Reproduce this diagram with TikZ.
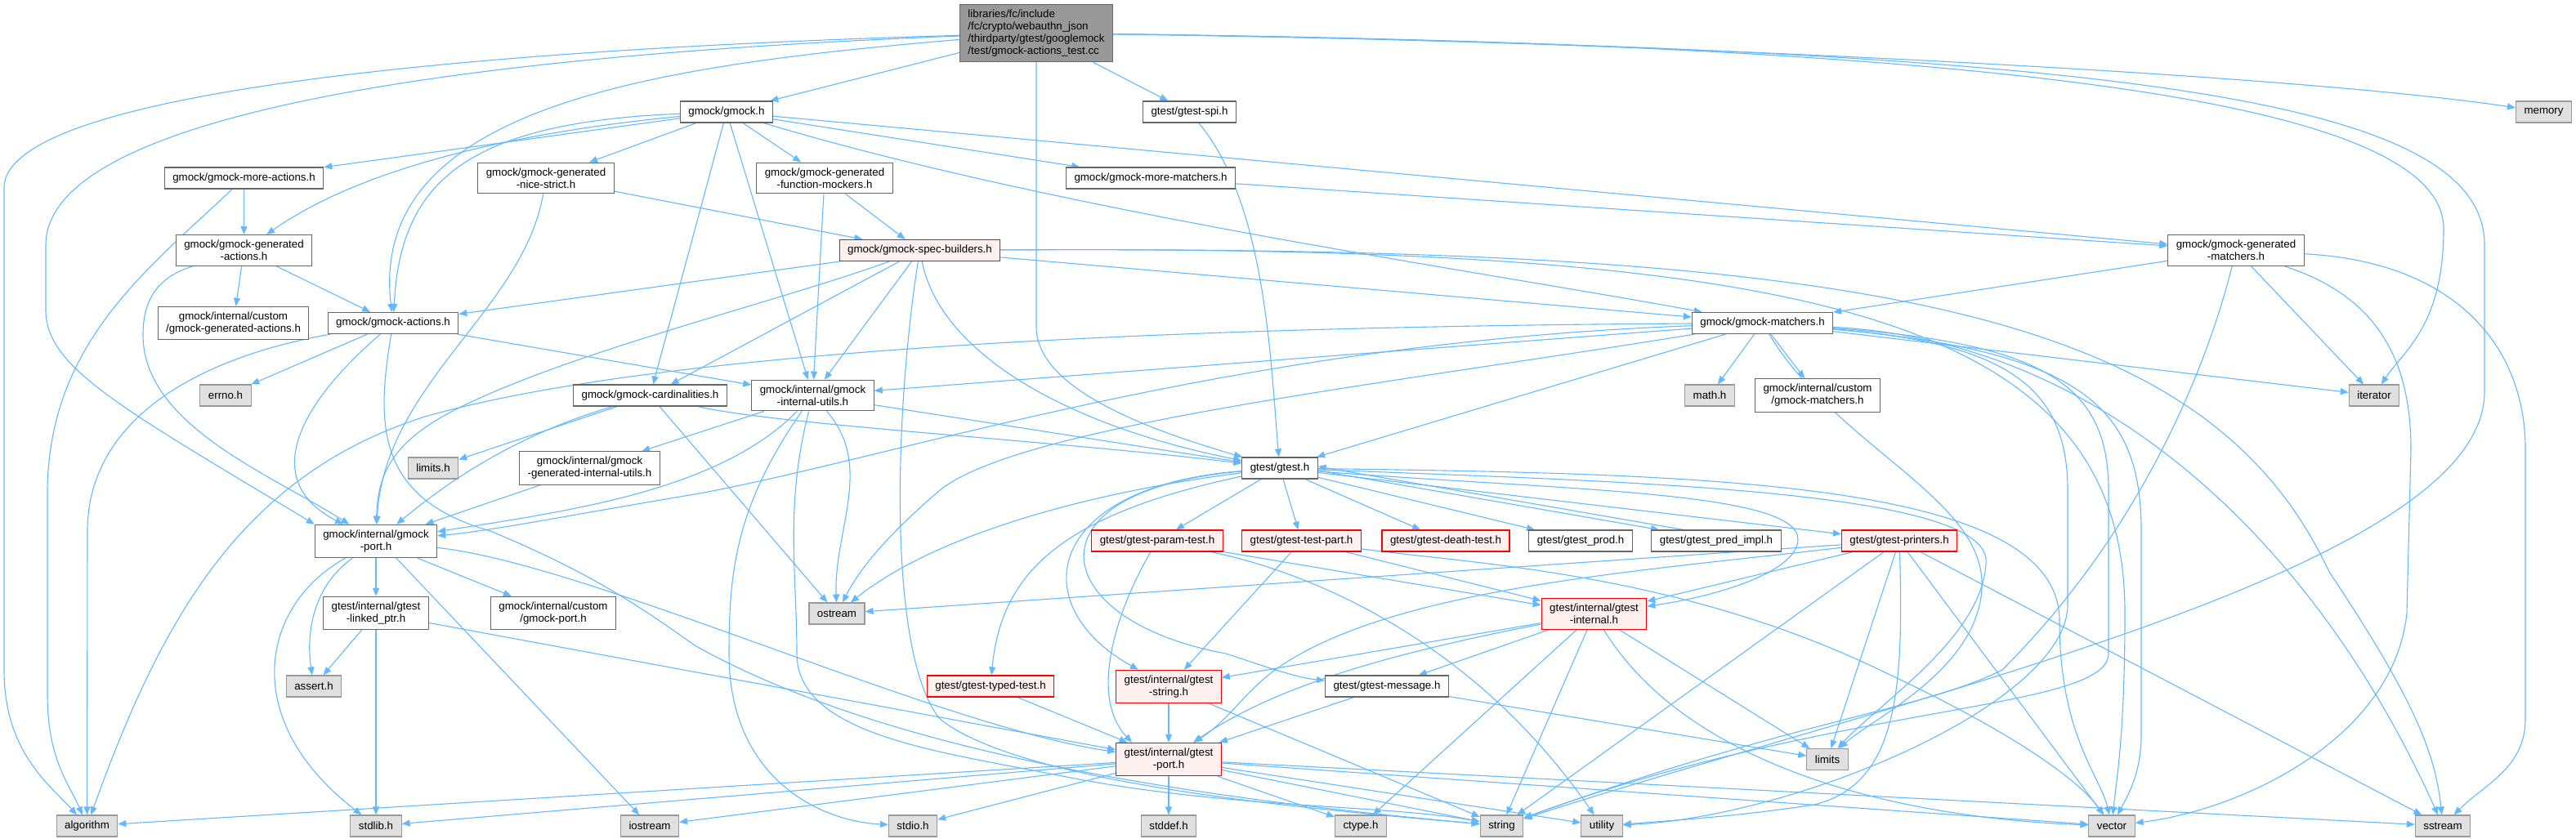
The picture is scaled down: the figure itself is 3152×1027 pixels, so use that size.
\documentclass[tikz,border=0pt]{standalone}
\usepackage{fontspec}
\setmainfont{Liberation Sans}
\usetikzlibrary{arrows.meta,backgrounds}

\definecolor{linha}{HTML}{63B8FF}
\definecolor{borda}{HTML}{666666}
\definecolor{bordasis}{HTML}{999999}
\definecolor{fundosis}{HTML}{E0E0E0}
\definecolor{fundover}{HTML}{FFF0F0}
\definecolor{fundoraiz}{HTML}{999999}

\begin{document}
\begin{tikzpicture}[x=1pt, y=-1pt, >={Triangle[length=10pt,width=8pt]},
    font=\fontsize{13.3}{15}\selectfont,
    arq/.style={draw=borda, fill=white, line width=1.1pt, align=center,
      inner xsep=10pt, inner ysep=6.5pt, minimum height=26pt},
    sis/.style={arq, draw=bordasis, fill=fundosis},
    trunc/.style={arq, draw=red, fill=fundover},
    dep/.style={->, draw=linha, line width=1.1pt}]
  \useasboundingbox (0,0) rectangle (3152,1027);

  % Arquivo principal
  \node[arq, fill=fundoraiz, align=left] (raiz) at (1268,40.5) {libraries/fc/include\\/fc/crypto/webauthn\_json\\/thirdparty/gtest/googlemock\\/test/gmock-actions\_test.cc};

  % Cabeçalhos do gmock
  \node[arq] (gmock) at (889,137) {gmock/gmock.h};
  \node[arq] (spi) at (1455.5,137) {gtest/gtest-spi.h};
  \node[arq] (maisacoes) at (298.5,218) {gmock/gmock-more-actions.h};
  \node[arq] (nicestrict) at (668,218) {gmock/gmock-generated\\-nice-strict.h};
  \node[arq] (fmockers) at (1009,218) {gmock/gmock-generated\\-function-mockers.h};
  \node[arq] (maismatch) at (1408,218) {gmock/gmock-more-matchers.h};
  \node[arq] (genacoes) at (298.5,306.5) {gmock/gmock-generated\\-actions.h};
  \node[trunc] (specb) at (1125.5,306.5) {gmock/gmock-spec-builders.h};
  \node[arq] (genmatch) at (2736,306.5) {gmock/gmock-generated\\-matchers.h};
  \node[arq] (customgenacoes) at (285.5,395.5) {gmock/internal/custom\\/gmock-generated-actions.h};
  \node[arq] (acoes) at (481,395.5) {gmock/gmock-actions.h};
  \node[arq] (matchers) at (2156.5,395.5) {gmock/gmock-matchers.h};
  \node[arq] (cardin) at (795.5,484) {gmock/gmock-cardinalities.h};
  \node[arq] (intutils) at (994.5,484) {gmock/internal/gmock\\-internal-utils.h};
  \node[arq] (custommatch) at (2224,484) {gmock/internal/custom\\/gmock-matchers.h};
  \node[arq] (genintutils) at (721.5,573) {gmock/internal/gmock\\-generated-internal-utils.h};
  \node[arq] (gmockport) at (460,662.5) {gmock/internal/gmock\\-port.h};
  \node[arq] (linkedptr) at (460,750.5) {gtest/internal/gtest\\-linked\_ptr.h};
  \node[arq] (customport) at (677,750.5) {gmock/internal/custom\\/gmock-port.h};

  % Cabeçalhos do gtest
  \node[arq] (gtest) at (1566,573) {gtest/gtest.h};
  \node[trunc] (paramtest) at (1416,662) {gtest/gtest-param-test.h};
  \node[trunc] (testpart) at (1592.5,662) {gtest/gtest-test-part.h};
  \node[trunc] (deathtest) at (1769,662) {gtest/gtest-death-test.h};
  \node[arq] (prod) at (1934,662) {gtest/gtest\_prod.h};
  \node[arq] (predimpl) at (2100,662) {gtest/gtest\_pred\_impl.h};
  \node[trunc] (printers) at (2324,662) {gtest/gtest-printers.h};
  \node[trunc] (gtestinternal) at (1950.5,751.5) {gtest/internal/gtest\\-internal.h};
  \node[trunc] (typedtest) at (1212,840) {gtest/gtest-typed-test.h};
  \node[trunc] (gteststring) at (1430,840.5) {gtest/internal/gtest\\-string.h};
  \node[arq] (message) at (1697,840) {gtest/gtest-message.h};
  \node[trunc] (gtestport) at (1430,929.5) {gtest/internal/gtest\\-port.h};

  % Cabeçalhos do sistema
  \node[sis] (memory) at (3112.5,137) {memory};
  \node[sis] (errno) at (276,484) {errno.h};
  \node[sis] (math) at (2092,484) {math.h};
  \node[sis] (iterator) at (2905,484) {iterator};
  \node[sis] (limitsh) at (530,573) {limits.h};
  \node[sis] (ostream) at (1024,751) {ostream};
  \node[sis] (assert) at (384,840) {assert.h};
  \node[sis] (limits) at (2236,929.5) {limits};
  \node[sis] (algorithm) at (106.5,1011) {algorithm};
  \node[sis] (stdlib) at (460,1011) {stdlib.h};
  \node[sis] (iostream) at (795,1011) {iostream};
  \node[sis] (stdio) at (1117,1011) {stdio.h};
  \node[sis] (stddef) at (1430,1011) {stddef.h};
  \node[sis] (ctype) at (1665,1011) {ctype.h};
  \node[sis] (string) at (1837.5,1011) {string};
  \node[sis] (utility) at (1960,1011) {utility};
  \node[sis] (vector) at (2584,1011) {vector};
  \node[sis] (sstream) at (2989,1011) {sstream};

  \begin{scope}[on background layer]
    % Inclusões do arquivo principal
    \draw[dep] (raiz) -- (gmock);
    \draw[dep] (raiz) -- (spi);
    \draw[dep] (raiz) -- (1268,400) .. controls (1268,480) and (1420,530) .. (gtest);
    \draw[dep] (raiz) .. controls (800,80) and (450,130) .. (acoes);
    \draw[dep] (raiz) .. controls (600,60) and (5,110) .. (5,230) -- (5,820) .. controls (5,920) and (60,960) .. (algorithm);
    \draw[dep] (raiz) .. controls (500,70) and (56,150) .. (56,300) -- (56,380) .. controls (56,450) and (150,500) .. (gmockport.north west);
    \draw[dep] (raiz) .. controls (2000,50) and (2800,90) .. (memory);
    \draw[dep] (raiz) .. controls (2500,55) and (2990,130) .. (2990,280) .. controls (2990,400) and (2940,430) .. (iterator);
    \draw[dep] (raiz) .. controls (2600,60) and (3040,120) .. (3040,300) -- (3040,480) .. controls (3040,700) and (2300,860) .. (string);

    % gmock.h
    \draw[dep] (gmock) -- (maisacoes);
    \draw[dep] (gmock) .. controls (650,160) and (450,200) .. (genacoes);
    \draw[dep] (gmock) .. controls (560,150) and (490,230) .. (acoes);
    \draw[dep] (gmock) -- (nicestrict);
    \draw[dep] (gmock) -- (fmockers);
    \draw[dep] (gmock) -- (cardin);
    \draw[dep] (gmock) -- (intutils);
    \draw[dep] (gmock) -- (maismatch);
    \draw[dep] (gmock) .. controls (1300,260) and (1800,330) .. (matchers);
    \draw[dep] (gmock) -- (genmatch);
    \draw[dep] (spi) .. controls (1550,250) and (1555,450) .. (gtest);

    % Ações e mocks
    \draw[dep] (maisacoes) -- (genacoes);
    \draw[dep] (maisacoes) .. controls (180,330) and (60,420) .. (58,600) -- (58,850) .. controls (58,930) and (85,960) .. (algorithm);
    \draw[dep] (nicestrict) -- (specb);
    \draw[dep] (nicestrict) .. controls (640,380) and (470,470) .. (gmockport);
    \draw[dep] (fmockers) -- (specb);
    \draw[dep] (fmockers) -- (intutils);
    \draw[dep] (maismatch) -- (genmatch);
    \draw[dep] (genacoes) -- (customgenacoes);
    \draw[dep] (genacoes) -- (acoes);
    \draw[dep] (genacoes) .. controls (190,340) and (175,370) .. (175,410) .. controls (175,520) and (330,580) .. (gmockport);
    \draw[dep] (acoes) -- (errno);
    \draw[dep] (acoes) .. controls (230,440) and (107,520) .. (107,650) -- (algorithm);
    \draw[dep] (acoes) .. controls (360,500) and (320,590) .. (gmockport);
    \draw[dep] (acoes) -- (intutils);
    \draw[dep] (acoes) .. controls (460,520) and (460,610) .. (600,650) .. controls (720,700) and (780,740) .. (850,790) .. controls (1100,930) and (1500,980) .. (string);

    % gmock-spec-builders.h
    \draw[dep] (specb) -- (acoes);
    \draw[dep] (specb) -- (cardin);
    \draw[dep] (specb) -- (intutils);
    \draw[dep] (specb) .. controls (950,370) and (700,430) .. (560,500) .. controls (480,540) and (462,580) .. (gmockport);
    \draw[dep] (specb) -- (matchers);
    \draw[dep] (specb) .. controls (1150,430) and (1300,520) .. (gtest);
    \draw[dep] (specb) .. controls (2300,300) and (2700,380) .. (2850,700) .. controls (2950,850) and (2980,920) .. (sstream);
    \draw[dep] (specb) .. controls (2200,300) and (2600,380) .. (2600,750) .. controls (2600,900) and (2590,950) .. (vector);
    \draw[dep] (specb) .. controls (1095,500) and (1085,800) .. (1150,880) .. controls (1250,960) and (1600,990) .. (string);

    % Cardinalidades e utilitários internos
    \draw[dep] (cardin) -- (limitsh);
    \draw[dep] (cardin) -- (ostream);
    \draw[dep] (cardin) .. controls (640,530) and (560,580) .. (gmockport);
    \draw[dep] (cardin) .. controls (950,520) and (1300,540) .. (gtest);
    \draw[dep] (intutils) -- (genintutils);
    \draw[dep] (intutils) .. controls (880,600) and (700,625) .. (gmockport);
    \draw[dep] (intutils) -- (gtest);
    \draw[dep] (intutils) .. controls (1070,570) and (1020,650) .. (ostream);
    \draw[dep] (intutils) .. controls (900,620) and (892,700) .. (892,800) .. controls (892,950) and (1000,1005) .. (stdio);
    \draw[dep] (intutils) .. controls (960,620) and (975,700) .. (975,800) .. controls (975,900) and (1150,920) .. (1300,950) .. controls (1500,990) and (1700,985) .. (string);
    \draw[dep] (genintutils) -- (gmockport);

    % gmock-matchers.h
    \draw[dep] (matchers) -- (math);
    \draw[dep] (matchers) -- (custommatch);
    \draw[dep] (matchers) -- (iterator);
    \draw[dep] (matchers) -- (intutils);
    \draw[dep] (matchers) -- (gtest);
    \draw[dep] (matchers) .. controls (1400,400) and (800,430) .. (520,510) .. controls (300,580) and (200,750) .. (algorithm);
    \draw[dep] (matchers) .. controls (1500,420) and (1100,560) .. (850,605) .. controls (700,630) and (600,650) .. (gmockport);
    \draw[dep] (matchers) .. controls (1700,470) and (1250,520) .. (1150,600) .. controls (1080,660) and (1050,700) .. (ostream);
    \draw[dep] (matchers) .. controls (2250,550) and (2430,610) .. (2425,720) .. controls (2420,820) and (2290,880) .. (limits);
    \draw[dep] (matchers) .. controls (2500,420) and (2580,470) .. (2580,600) -- (2580,800) .. controls (2580,870) and (2250,860) .. (string);
    \draw[dep] (matchers) .. controls (2450,420) and (2530,470) .. (2530,600) -- (2530,740) .. controls (2530,860) and (2200,1000) .. (utility);
    \draw[dep] (matchers) .. controls (2550,430) and (2620,500) .. (2620,650) -- (2620,900) .. controls (2620,950) and (2600,980) .. (vector);
    \draw[dep] (matchers) .. controls (2600,420) and (2850,700) .. (sstream);

    % gmock-generated-matchers.h
    \draw[dep] (genmatch) -- (matchers);
    \draw[dep] (genmatch) -- (iterator);
    \draw[dep] (genmatch) .. controls (2700,450) and (2620,650) .. (2450,820) .. controls (2350,870) and (2200,880) .. (string);
    \draw[dep] (genmatch) .. controls (2900,360) and (2950,430) .. (2950,550) -- (2945,750) .. controls (2930,900) and (2750,990) .. (vector);
    \draw[dep] (genmatch) .. controls (3000,320) and (3090,420) .. (3090,550) -- (3090,880) .. controls (3090,940) and (3040,960) .. (sstream);

    % gmock-port.h
    \draw[dep] (gmockport) .. controls (380,720) and (375,780) .. (assert);
    \draw[dep] (gmockport) .. controls (320,740) and (290,880) .. (stdlib);
    \draw[dep] (gmockport) -- (linkedptr);
    \draw[dep] ([xshift=25]gmockport.south) -- (iostream);
    \draw[dep] (gmockport) -- (customport);
    \draw[dep] (gmockport) .. controls (720,690) and (1150,890) .. (gtestport);
    \draw[dep] (linkedptr) -- (stdlib);
    \draw[dep] (linkedptr) -- (assert);
    \draw[dep] (linkedptr) -- (gtestport);

    % gtest.h
    \draw[dep] (gtest) -- (paramtest);
    \draw[dep] (gtest) -- (testpart);
    \draw[dep] (gtest) -- (deathtest);
    \draw[dep] (gtest) -- (prod);
    \draw[dep] ([yshift=-3]gtest.east) -- ([xshift=-70]predimpl.north);
    \draw[dep] ([xshift=-40]predimpl.north) -- ([yshift=2]gtest.east);
    \draw[dep] (gtest) -- (printers);
    \draw[dep] (gtest) .. controls (1900,600) and (2200,600) .. (2200,660) .. controls (2200,700) and (2100,730) .. (gtestinternal);
    \draw[dep] (gtest) .. controls (1350,600) and (1150,650) .. (ostream);
    \draw[dep] (gtest) .. controls (2000,590) and (2440,600) .. (2430,690) .. controls (2425,780) and (2300,860) .. (limits);
    \draw[dep] (gtest) .. controls (2100,580) and (2520,590) .. (2520,760) .. controls (2520,900) and (2570,950) .. (vector);
    \draw[dep] (gtest) .. controls (1280,595) and (1250,740) .. (gteststring);
    \draw[dep] (gtest) .. controls (1250,600) and (1280,760) .. (1500,800) .. controls (1560,820) and (1590,830) .. (message);
    \draw[dep] (gtest) .. controls (1300,630) and (1225,700) .. (typedtest);

    % Testes parametrizados, partes e impressoras
    \draw[dep] (paramtest) -- (gtestinternal);
    \draw[dep] (paramtest) .. controls (1370,740) and (1330,850) .. ([xshift=-45]gtestport.north);
    \draw[dep] (paramtest) .. controls (1600,700) and (1800,780) .. (utility);
    \draw[dep] (testpart) -- (gteststring);
    \draw[dep] (testpart) -- (gtestinternal);
    \draw[dep] (testpart) .. controls (1800,690) and (2050,700) .. (2300,820) .. controls (2450,890) and (2540,950) .. (vector);
    \draw[dep] (printers) -- (ostream);
    \draw[dep] (printers) -- (gtestinternal);
    \draw[dep] (printers) .. controls (2000,700) and (1700,720) .. (1560,820) .. controls (1520,850) and (1505,880) .. (gtestport);
    \draw[dep] (printers) -- (limits);
    \draw[dep] (printers) -- (string);
    \draw[dep] (printers) .. controls (2330,850) and (2320,960) .. (2220,985) .. controls (2120,1000) and (2050,1004) .. (utility);
    \draw[dep] (printers) -- (vector);
    \draw[dep] (printers) -- (sstream);

    % gtest-internal.h e vizinhos
    \draw[dep] (gtestinternal) -- (message);
    \draw[dep] (gtestinternal) -- (ctype);
    \draw[dep] (gtestinternal) -- (string);
    \draw[dep] (gtestinternal) -- (limits);
    \draw[dep] (gtestinternal) .. controls (2060,930) and (2300,1000) .. (vector);
    \draw[dep] (gtestinternal) -- (gteststring);
    \draw[dep] (gtestinternal) .. controls (1700,800) and (1560,840) .. (gtestport);
    \draw[dep] (gteststring) -- (gtestport);
    \draw[dep] (gteststring) -- (string);
    \draw[dep] (typedtest) -- (gtestport);
    \draw[dep] (message) -- (gtestport);
    \draw[dep] (message) -- (limits);

    % gtest-port.h
    \draw[dep] (gtestport) -- (algorithm);
    \draw[dep] (gtestport) -- (stdlib);
    \draw[dep] (gtestport) -- (iostream);
    \draw[dep] (gtestport) -- (stdio);
    \draw[dep] (gtestport) -- (stddef);
    \draw[dep] (gtestport) -- (ctype);
    \draw[dep] (gtestport) -- (string);
    \draw[dep] (gtestport) -- (utility);
    \draw[dep] (gtestport) -- (vector);
    \draw[dep] (gtestport) -- (sstream);
  \end{scope}
\end{tikzpicture}
\end{document}
